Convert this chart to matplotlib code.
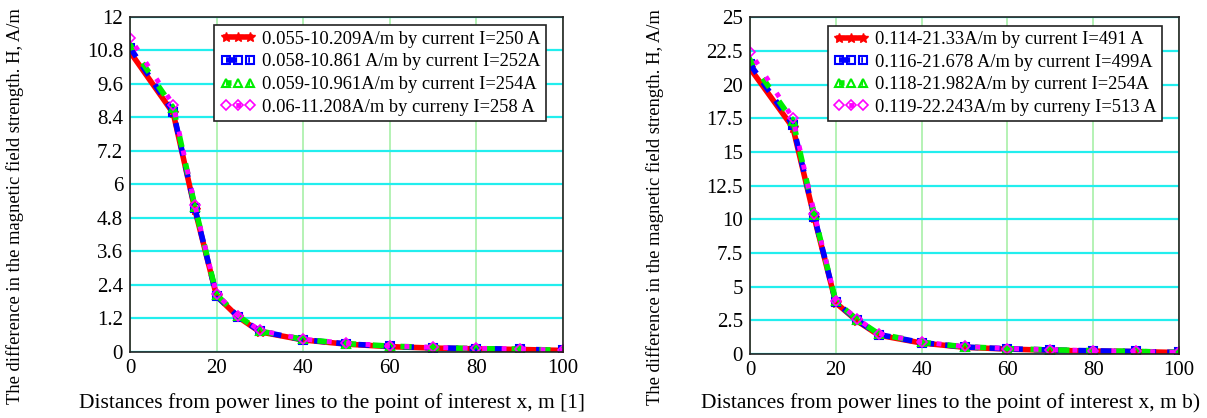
import numpy as np
import matplotlib
matplotlib.use('Agg')
import matplotlib.pyplot as plt

plt.rcParams['font.family'] = ['Liberation Serif', 'DejaVu Serif']

# distances, m
x = [0, 10, 15, 20, 25, 30, 40, 50, 60, 70, 80, 90, 100]

# left panel (a) values, A/m
h_a_250 = [10.75, 8.55, 5.1, 2.0, 1.25, 0.72, 0.43, 0.28, 0.19, 0.14, 0.11, 0.09, 0.055]
h_a_252 = [10.9, 8.6, 5.15, 2.0, 1.27, 0.74, 0.44, 0.29, 0.2, 0.15, 0.12, 0.1, 0.058]
h_a_254 = [11.0, 8.75, 5.2, 2.05, 1.29, 0.75, 0.45, 0.3, 0.21, 0.16, 0.12, 0.1, 0.059]
h_a_258 = [11.25, 8.85, 5.25, 2.07, 1.3, 0.77, 0.46, 0.31, 0.22, 0.16, 0.13, 0.11, 0.06]
labels_a = ['0.055-10.209A/m by current I=250 A',
            '0.058-10.861 A/m by current I=252A',
            '0.059-10.961A/m by current I=254A',
            '0.06-11.208A/m by curreny I=258 A']

# right panel (b) values, A/m
h_b_491 = [21.2, 16.8, 10.1, 3.8, 2.45, 1.4, 0.82, 0.5, 0.37, 0.28, 0.22, 0.18, 0.114]
h_b_499 = [21.5, 17.0, 10.2, 3.85, 2.5, 1.45, 0.85, 0.52, 0.39, 0.3, 0.24, 0.19, 0.116]
h_b_254 = [21.8, 17.3, 10.3, 3.9, 2.55, 1.5, 0.87, 0.54, 0.4, 0.31, 0.25, 0.2, 0.118]
h_b_513 = [22.4, 17.5, 10.4, 3.95, 2.6, 1.52, 0.89, 0.56, 0.41, 0.32, 0.26, 0.21, 0.119]
labels_b = ['0.114-21.33A/m by current I=491 A',
            '0.116-21.678 A/m by current I=499A',
            '0.118-21.982A/m by current I=254A',
            '0.119-22.243A/m by curreny I=513 A']

styles = [
    dict(color='#ff0000', marker='*', ms=7, ls='-', lw=4.0),
    dict(color='#0000ff', marker='s', ms=6, mfc='none', mew=1.5, ls=(0, (2, 2)), lw=4.0),
    dict(color='#00ee00', marker='^', ms=6, mfc='none', mew=1.5, ls=(1, (2, 3)), lw=4.0),
    dict(color='#ff00ff', marker='D', ms=5, mfc='none', mew=1.2, ls=(2, (1, 3)), lw=3.5),
]

fig = plt.figure(figsize=(12.07, 4.18), dpi=100)
ax1 = fig.add_axes([0.1077, 0.158, 0.3587, 0.8014])
ax2 = fig.add_axes([0.6214, 0.153, 0.3554, 0.806])


def draw(ax, series, labels, yticks, yticklabels, xlab, lab_x, xlab_y):
    for ys, lab, st in zip(series, labels, styles):
        ax.plot(x, ys, label=lab, **st)
    ax.set_xlim(0, 100)
    ax.set_ylim(yticks[0], yticks[-1])
    ax.set_xticks(range(0, 101, 20))
    ax.set_yticks(yticks)
    ax.set_yticklabels(yticklabels)
    ax.tick_params(length=0, labelsize=15, pad=5)
    ax.xaxis.grid(True, color='#a8f0a8', lw=1.2)
    ax.yaxis.grid(True, color='#22eeee', lw=1.6)
    ax.set_axisbelow(True)
    for s in ax.spines.values():
        s.set_color('#222222')
        s.set_linewidth(1.2)
    ax.set_xlabel(xlab, fontsize=15.5, va='center')
    ax.set_ylabel('The difference in the magnetic field strength. H, A/m',
                  fontsize=13.4, va='center')
    ax.xaxis.set_label_coords(0.467, xlab_y)
    ax.yaxis.set_label_coords(lab_x, 0.435)
    leg = ax.legend(loc='upper right', bbox_to_anchor=(0.96, 0.975), fontsize=13.3,
                    fancybox=False, framealpha=1, edgecolor='#222222',
                    handlelength=1.9, numpoints=3, borderpad=0.3, labelspacing=0.3,
                    handletextpad=0.35, borderaxespad=0)
    leg.get_frame().set_linewidth(1.2)


yt_a = [0, 1.2, 2.4, 3.6, 4.8, 6, 7.2, 8.4, 9.6, 10.8, 12]
draw(ax1, [h_a_250, h_a_252, h_a_254, h_a_258], labels_a, yt_a,
     ['0', '1.2', '2.4', '3.6', '4.8', '6', '7.2', '8.4', '9.6', '10.8', '12'],
     'Distances from power lines to the point of interest x, m [1]', -0.265, -0.152)

yt_b = [0, 2.5, 5, 7.5, 10, 12.5, 15, 17.5, 20, 22.5, 25]
draw(ax2, [h_b_491, h_b_499, h_b_254, h_b_513], labels_b, yt_b,
     ['0', '2.5', '5', '7.5', '10', '12.5', '15', '17.5', '20', '22.5', '25'],
     'Distances from power lines to the point of interest x, m b)', -0.221, -0.145)

fig.savefig('out.png', dpi=100)
